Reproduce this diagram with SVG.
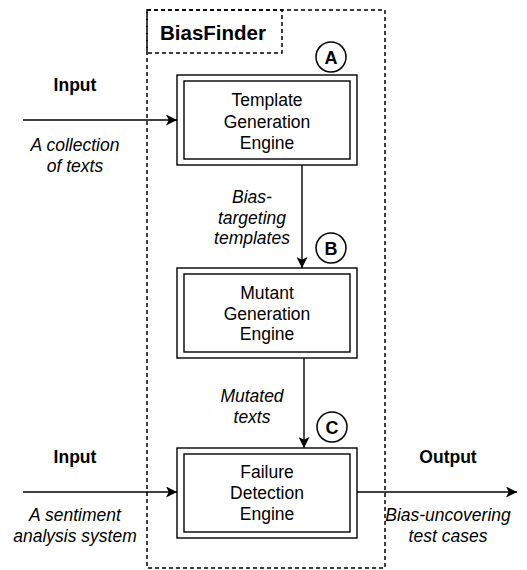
<svg xmlns="http://www.w3.org/2000/svg" width="527" height="570" viewBox="0 0 527 570">
<defs>
<marker id="arr" viewBox="0 0 10 10" refX="10" refY="5" markerWidth="11" markerHeight="11" markerUnits="userSpaceOnUse" orient="auto">
<path d="M0,0 L10,5 L0,10 L2.5,5 Z" fill="#000"/>
</marker>
</defs>
<style>
text{font-family:"Liberation Sans",Arial,sans-serif;font-size:17.5px;fill:#000;text-anchor:middle}
.b{font-weight:bold}
.i{font-style:italic}
.box{fill:#fff;stroke:#000;stroke-width:1.4}
.dash{fill:none;stroke:#000;stroke-width:1.5;stroke-dasharray:4 3}
.ln{fill:none;stroke:#000;stroke-width:1.4}
.circ{fill:#fff;stroke:#000;stroke-width:1.5}
</style>
<rect width="527" height="570" fill="#fff"/>
<g id="biasfinder">
<rect class="dash" x="147" y="10" width="238" height="558"/>
<rect class="dash" x="147" y="10" width="135" height="43"/>
<text class="b" x="213" y="40" style="font-size:20.5px">BiasFinder</text>
</g>
<g id="connectors">
<line class="ln" x1="23" y1="120" x2="177" y2="120" marker-end="url(#arr)"/>
<line class="ln" x1="302" y1="165" x2="302" y2="268" marker-end="url(#arr)"/>
<line class="ln" x1="304" y1="358" x2="304" y2="448" marker-end="url(#arr)"/>
<line class="ln" x1="23" y1="492" x2="177" y2="492" marker-end="url(#arr)"/>
<line class="ln" x1="357" y1="492" x2="517" y2="492" marker-end="url(#arr)"/>
</g>
<g id="labels">
<text class="b" x="75" y="91">Input</text>
<text class="i" x="75" y="151">A collection</text>
<text class="i" x="75" y="172">of texts</text>
<text class="i" x="252" y="203">Bias-</text>
<text class="i" x="252" y="224">targeting</text>
<text class="i" x="252" y="244">templates</text>
<text class="i" x="252" y="402">Mutated</text>
<text class="i" x="252" y="423">texts</text>
<text class="b" x="75" y="463">Input</text>
<text class="i" x="75" y="521">A sentiment</text>
<text class="i" x="75" y="542">analysis system</text>
<text class="b" x="448" y="463">Output</text>
<text class="i" x="448" y="521">Bias-uncovering</text>
<text class="i" x="448" y="542">test cases</text>
</g>
<g id="templateEngine">
<rect class="box" x="177" y="75" width="180" height="90"/>
<rect class="box" x="184" y="81" width="166" height="78"/>
<text x="267" y="106">Template</text>
<text x="267" y="128">Generation</text>
<text x="267" y="149">Engine</text>
</g>
<g id="mutantEngine">
<rect class="box" x="177" y="268" width="180" height="90"/>
<rect class="box" x="184" y="274" width="166" height="78"/>
<text x="267" y="299">Mutant</text>
<text x="267" y="320">Generation</text>
<text x="267" y="340">Engine</text>
</g>
<g id="failureEngine">
<rect class="box" x="177" y="448" width="180" height="90"/>
<rect class="box" x="184" y="454" width="166" height="78"/>
<text x="267" y="478">Failure</text>
<text x="267" y="499">Detection</text>
<text x="267" y="520">Engine</text>
</g>
<g id="markerA">
<circle class="circ" cx="331" cy="57" r="15"/>
<text class="b" x="331" y="63.5" style="font-size:18px">A</text>
</g>
<g id="markerB">
<circle class="circ" cx="331" cy="248" r="15"/>
<text class="b" x="331" y="254.5" style="font-size:18px">B</text>
</g>
<g id="markerC">
<circle class="circ" cx="332" cy="427" r="15"/>
<text class="b" x="332" y="433.5" style="font-size:18px">C</text>
</g>
</svg>
